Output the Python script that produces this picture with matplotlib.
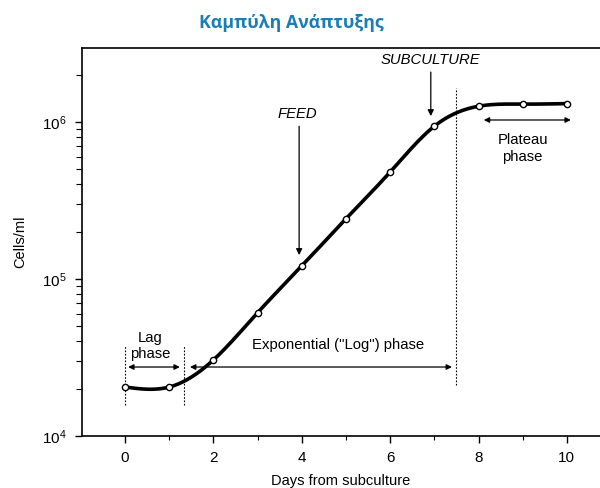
import numpy as np
import matplotlib
matplotlib.use("Agg")
import matplotlib.pyplot as plt
from matplotlib.ticker import LogLocator, LogFormatterMathtext, MultipleLocator, NullFormatter

# ---- data ----
days = [0, 1, 2, 3, 4, 5, 6, 7, 8, 9, 10]
cells = [2.05e4, 2.05e4, 3.05e4, 6.1e4, 1.21e5, 2.42e5, 4.8e5, 9.4e5, 1.26e6, 1.30e6, 1.31e6]
title = "Καμπύλη Ανάπτυξης"
xlabel = "Days from subculture"
ylabel = "Cells/ml"
xticks = [0, 2, 4, 6, 8, 10]

plt.rcParams['font.family'] = ['Liberation Sans', 'DejaVu Sans']
plt.rcParams['mathtext.default'] = 'regular'


def natural_spline(x, y, xs):
    x = np.asarray(x, float); y = np.asarray(y, float)
    n = len(x)
    h = np.diff(x)
    A = np.zeros((n, n)); b = np.zeros(n)
    A[0, 0] = 1; A[-1, -1] = 1
    for i in range(1, n - 1):
        A[i, i - 1] = h[i - 1]
        A[i, i] = 2 * (h[i - 1] + h[i])
        A[i, i + 1] = h[i]
        b[i] = 3 * ((y[i + 1] - y[i]) / h[i] - (y[i] - y[i - 1]) / h[i - 1])
    c = np.linalg.solve(A, b)
    out = np.empty_like(xs)
    for k, xv in enumerate(xs):
        i = min(max(np.searchsorted(x, xv) - 1, 0), n - 2)
        dx = xv - x[i]
        bi = (y[i + 1] - y[i]) / h[i] - h[i] * (2 * c[i] + c[i + 1]) / 3
        di = (c[i + 1] - c[i]) / (3 * h[i])
        out[k] = y[i] + bi * dx + c[i] * dx ** 2 + di * dx ** 3
    return out


fig = plt.figure(figsize=(6, 4.88), dpi=100)
ax = fig.add_axes([0.137, 0.1066, 0.863, 0.795])

xs = np.linspace(days[0], days[-1], 400)
ys = 10 ** natural_spline(days, np.log10(cells), xs)
ax.plot(xs, ys, color='black', lw=2.6, solid_capstyle='round', zorder=3)
ax.plot(days, cells, 'o', ms=4.5, mfc='white', mec='black', mew=1.0, zorder=4)

ax.set_yscale('log')
ax.set_xlim(-0.97, 10.75)
ax.set_ylim(1e4, 2.96e6)

ax.xaxis.set_major_locator(MultipleLocator(2))
ax.xaxis.set_minor_locator(MultipleLocator(1))
ax.set_xticks(xticks)
ax.yaxis.set_major_locator(LogLocator(base=10, numticks=10))
ax.yaxis.set_major_formatter(LogFormatterMathtext())
ax.yaxis.set_minor_locator(LogLocator(base=10, subs=np.arange(2, 10), numticks=20))
ax.yaxis.set_minor_formatter(NullFormatter())
ax.tick_params(which='major', direction='out', length=5, width=1, labelsize=11, pad=6)
ax.tick_params(which='minor', direction='out', length=3, width=0.8)
ax.tick_params(axis='y', which='minor', length=4)

for s in ['left', 'top', 'bottom']:
    ax.spines[s].set_linewidth(1.2)
ax.spines['right'].set_visible(False)

ax.set_xlabel(xlabel, fontsize=10.5, labelpad=6)
ax.set_ylabel(ylabel, fontsize=10.5, labelpad=11)
fig.text(0.485, 0.953, title, ha='center', va='center', fontsize=12.8, fontweight='bold',
         color='#1a7db6', family=['Open Sans', 'DejaVu Sans'])

# dotted phase boundaries
ax.plot([0, 0], [1.58e4, 3.8e4], ls=(0, (1.5, 1.5)), color='black', lw=0.8)
ax.plot([1.33, 1.33], [1.58e4, 3.8e4], ls=(0, (1.5, 1.5)), color='black', lw=0.8)
ax.plot([7.5, 7.5], [2.11e4, 1.65e6], ls=(0, (1.5, 1.5)), color='black', lw=0.8)

arrow = dict(arrowstyle='<|-|>', color='black', lw=0.9, mutation_scale=8, shrinkA=0, shrinkB=0)
ax.annotate('', xy=(1.24, 2.75e4), xytext=(0.07, 2.75e4), arrowprops=arrow)
ax.annotate('', xy=(7.4, 2.75e4), xytext=(1.47, 2.75e4), arrowprops=arrow)
ax.annotate('', xy=(10.09, 1.03e6), xytext=(8.12, 1.03e6), arrowprops=arrow)

ax.text(0.57, 3.74e4, "Lag\nphase", ha='center', va='center', fontsize=10.7, linespacing=1.25)
ax.text(4.82, 3.8e4, 'Exponential ("Log") phase', ha='center', va='center', fontsize=10.7)
ax.text(9.0, 6.8e5, "Plateau\nphase", ha='center', va='center', fontsize=10.7, linespacing=1.25)

down = dict(arrowstyle='-|>', color='black', lw=0.9, mutation_scale=9, shrinkA=0, shrinkB=0)
ax.text(3.89, 1.12e6, "FEED", ha='center', va='center', fontsize=10.7, style='italic')
ax.annotate('', xy=(3.94, 1.42e5), xytext=(3.94, 9.4e5), arrowprops=down)
ax.text(6.92, 2.48e6, "SUBCULTURE", ha='center', va='center', fontsize=10.7, style='italic')
ax.annotate('', xy=(6.92, 1.09e6), xytext=(6.92, 2.08e6), arrowprops=down)

fig.savefig('out.png', dpi=100)
